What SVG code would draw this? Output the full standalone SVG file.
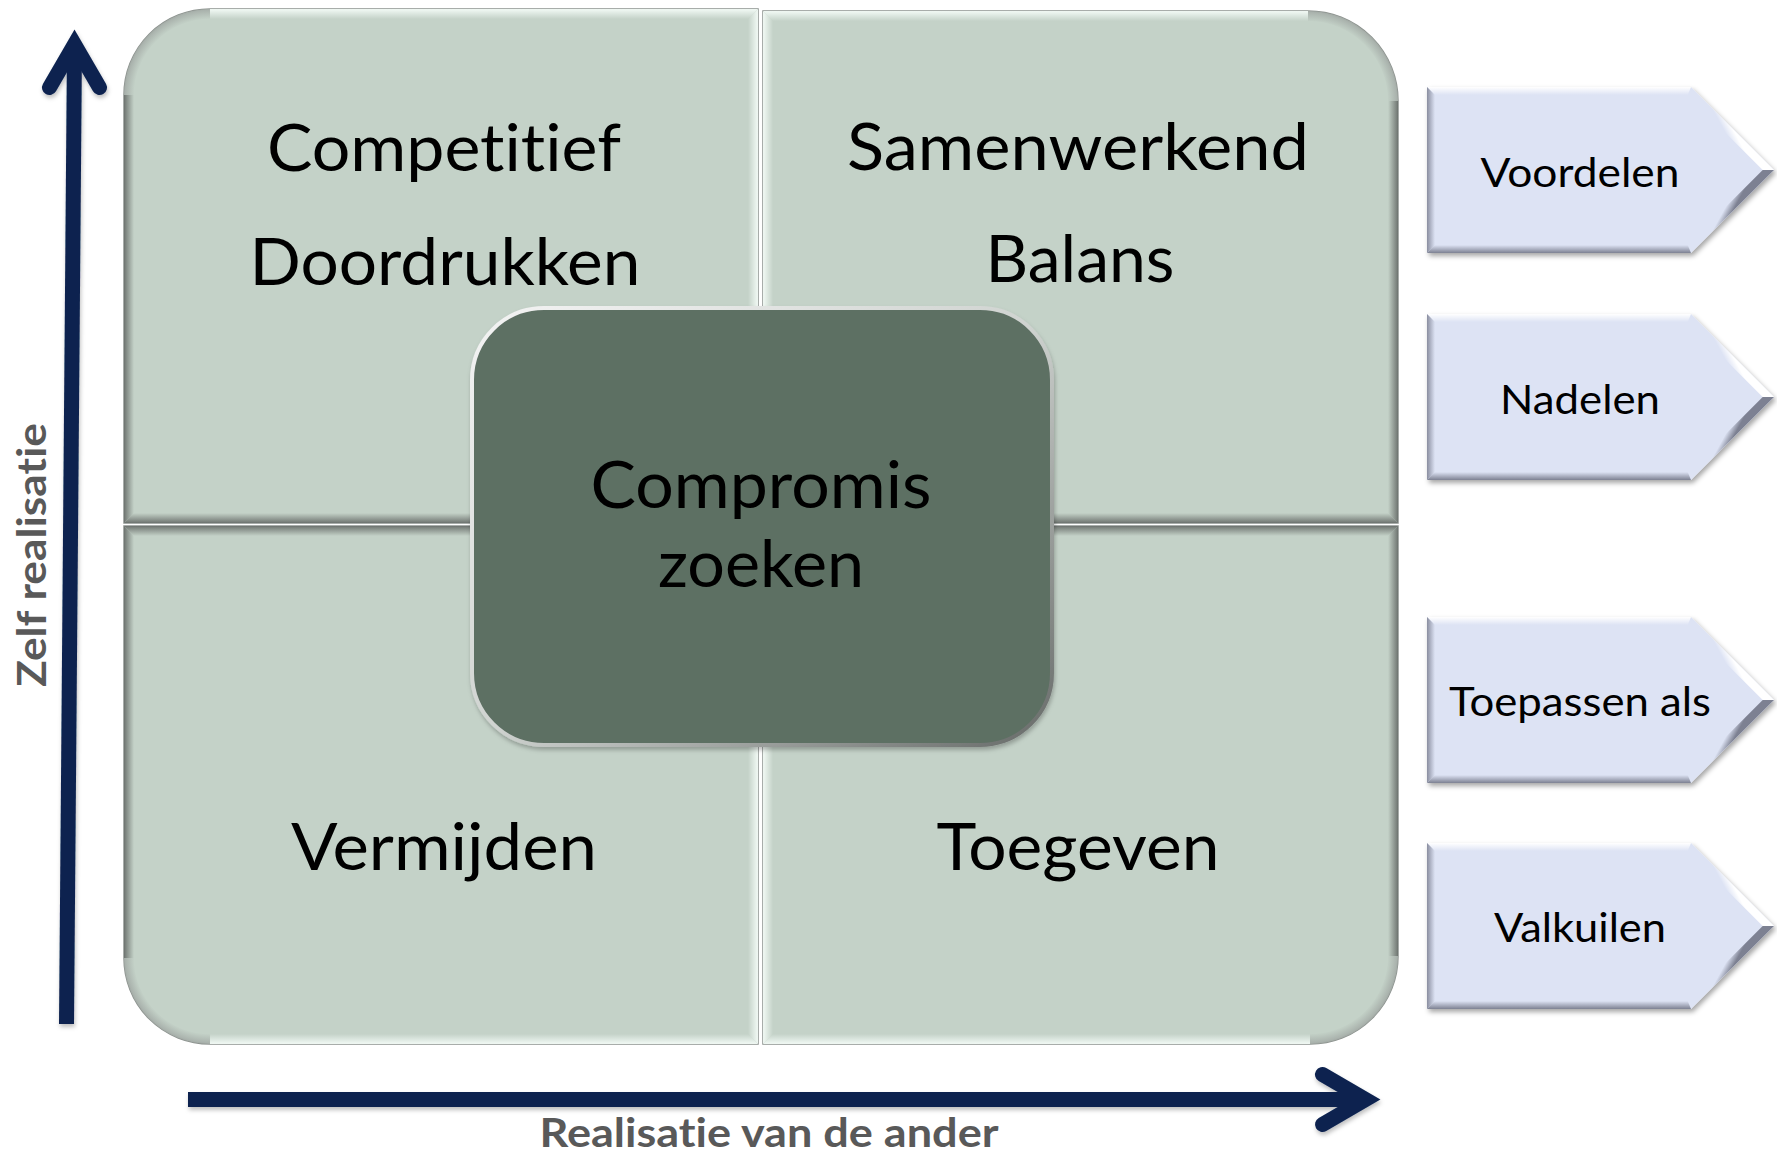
<svg xmlns="http://www.w3.org/2000/svg" xmlns:xlink="http://www.w3.org/1999/xlink" width="1777" height="1157" viewBox="0 0 1777 1157">
<style>
  text { font-variant-ligatures: none; font-feature-settings: "liga" 0, "clig" 0; }
  .q { fill: #c4d2c8; stroke: #8c928e; stroke-width: 1.5; }
  .qt { font-family: Lato, "Open Sans", "Liberation Sans", sans-serif; font-size: 66px; fill: #000; text-anchor: middle; }
  .pt { font-family: Lato, "Open Sans", "Liberation Sans", sans-serif; font-size: 41px; fill: #000; text-anchor: middle; }
  .ax { font-family: Lato, "Open Sans", "Liberation Sans", sans-serif; font-size: 41px; font-weight: bold; fill: #595959; text-anchor: middle; }
  .arrow { fill: none; stroke: #0b2450; stroke-width: 15; }
</style>
<defs>
  <linearGradient id="gLT" x1="0" y1="0" x2="0" y2="1"><stop offset="0" stop-color="#f2faf5"/><stop offset="1" stop-color="#f2faf5" stop-opacity="0"/></linearGradient>
  <linearGradient id="gLB" x1="0" y1="1" x2="0" y2="0"><stop offset="0" stop-color="#f2faf5"/><stop offset="1" stop-color="#f2faf5" stop-opacity="0"/></linearGradient>
  <linearGradient id="gLL" x1="0" y1="0" x2="1" y2="0"><stop offset="0" stop-color="#f2faf5"/><stop offset="1" stop-color="#f2faf5" stop-opacity="0"/></linearGradient>
  <linearGradient id="gLR" x1="1" y1="0" x2="0" y2="0"><stop offset="0" stop-color="#f2faf5"/><stop offset="1" stop-color="#f2faf5" stop-opacity="0"/></linearGradient>
  <linearGradient id="gDT" x1="0" y1="0" x2="0" y2="1"><stop offset="0" stop-color="#6f7571"/><stop offset="1" stop-color="#6f7571" stop-opacity="0"/></linearGradient>
  <linearGradient id="gDB" x1="0" y1="1" x2="0" y2="0"><stop offset="0" stop-color="#6f7571"/><stop offset="1" stop-color="#6f7571" stop-opacity="0"/></linearGradient>
  <linearGradient id="gDL" x1="0" y1="0" x2="1" y2="0"><stop offset="0" stop-color="#6f7571"/><stop offset="1" stop-color="#6f7571" stop-opacity="0"/></linearGradient>
  <linearGradient id="gDR" x1="1" y1="0" x2="0" y2="0"><stop offset="0" stop-color="#6f7571"/><stop offset="1" stop-color="#6f7571" stop-opacity="0"/></linearGradient>
  <radialGradient id="rcTL" gradientUnits="userSpaceOnUse" cx="210" cy="95" r="86"><stop offset="0.88" stop-color="#a6aea9" stop-opacity="0"/><stop offset="1" stop-color="#a6aea9"/></radialGradient>
  <radialGradient id="rcTR" gradientUnits="userSpaceOnUse" cx="1308" cy="101" r="90"><stop offset="0.88" stop-color="#a6aea9" stop-opacity="0"/><stop offset="1" stop-color="#a6aea9"/></radialGradient>
  <radialGradient id="rcBL" gradientUnits="userSpaceOnUse" cx="210" cy="958" r="86"><stop offset="0.88" stop-color="#a6aea9" stop-opacity="0"/><stop offset="1" stop-color="#a6aea9"/></radialGradient>
  <radialGradient id="rcBR" gradientUnits="userSpaceOnUse" cx="1310" cy="956" r="88"><stop offset="0.88" stop-color="#a6aea9" stop-opacity="0"/><stop offset="1" stop-color="#a6aea9"/></radialGradient>
  <linearGradient id="gCenterStroke" x1="0" y1="0" x2="1" y2="1"><stop offset="0" stop-color="#f4f4f4"/><stop offset="0.5" stop-color="#cfd3d0"/><stop offset="1" stop-color="#666a68"/></linearGradient>
  <linearGradient id="pLT" x1="0" y1="0" x2="0" y2="1"><stop offset="0" stop-color="#ffffff"/><stop offset="1" stop-color="#ffffff" stop-opacity="0"/></linearGradient>
  <linearGradient id="pDB" x1="0" y1="1" x2="0" y2="0"><stop offset="0" stop-color="#7d8192"/><stop offset="1" stop-color="#7d8192" stop-opacity="0"/></linearGradient>
  <linearGradient id="pDL" x1="0" y1="0" x2="1" y2="0"><stop offset="0" stop-color="#8a8ea0"/><stop offset="1" stop-color="#8a8ea0" stop-opacity="0"/></linearGradient>
  <linearGradient id="pLD" gradientUnits="userSpaceOnUse" x1="305.5" y1="41.5" x2="298.2" y2="45.5"><stop offset="0" stop-color="#ffffff"/><stop offset="1" stop-color="#ffffff" stop-opacity="0"/></linearGradient>
  <linearGradient id="pDD" gradientUnits="userSpaceOnUse" x1="305.5" y1="124.5" x2="298.2" y2="120.5"><stop offset="0" stop-color="#7d8192"/><stop offset="1" stop-color="#7d8192" stop-opacity="0"/></linearGradient>
  <filter id="shadow" x="-10%" y="-10%" width="130%" height="130%">
    <feDropShadow dx="2" dy="3" stdDeviation="2.5" flood-color="#000" flood-opacity="0.35"/>
  </filter>
  <filter id="shadowSoft" x="-10%" y="-10%" width="130%" height="130%">
    <feDropShadow dx="1" dy="3" stdDeviation="2" flood-color="#000" flood-opacity="0.25"/>
  </filter>
  <g id="pentagon">
    <polygon points="0,0 264,0 347,83 264,166 0,166" fill="#dde3f4" filter="url(#shadow)"/>
    <polygon points="0,0 264,0 260.7,8 8,8" fill="url(#pLT)"/>
    <polygon points="264,0 347,83 335.7,83 260.7,8" fill="url(#pLD)"/>
    <polygon points="347,83 264,166 260.7,158 335.7,83" fill="url(#pDD)"/>
    <polygon points="264,166 0,166 8,158 260.7,158" fill="url(#pDB)"/>
    <polygon points="0,166 0,0 8,8 8,158" fill="url(#pDL)"/>
  </g>
</defs>

<rect width="1777" height="1157" fill="#ffffff"/>

<g id="quadrant-competitief">
  <path class="q" d="M124,95 A86,86 0 0 1 210,9 H758 V523 H124 Z"/>
  <polygon points="210,9 758,9 748,19 210,19" fill="url(#gLT)"/>
  <polygon points="758,9 758,523 748,513 748,19" fill="url(#gLR)"/>
  <polygon points="758,523 124,523 134,513 748,513" fill="url(#gDB)"/>
  <polygon points="124,523 124,95 134,95 134,513" fill="url(#gDL)"/>
  <path d="M124,95 A86,86 0 0 1 210,9 V19 A76,76 0 0 0 134,95 Z" fill="url(#rcTL)"/>
  <text class="qt" x="444" y="171" textLength="354" lengthAdjust="spacingAndGlyphs">Competitief</text>
  <text class="qt" x="445" y="285" textLength="391" lengthAdjust="spacingAndGlyphs">Doordrukken</text>
</g>

<g id="quadrant-samenwerkend">
  <path class="q" d="M763,11 H1308 A90,90 0 0 1 1398,101 V523 H763 Z"/>
  <polygon points="763,11 1308,11 1308,21 773,21" fill="url(#gLT)"/>
  <polygon points="763,11 773,21 773,513 763,523" fill="url(#gLL)"/>
  <polygon points="763,523 1398,523 1388,513 773,513" fill="url(#gDB)"/>
  <polygon points="1398,101 1398,523 1388,513 1388,101" fill="url(#gDR)"/>
  <path d="M1308,11 A90,90 0 0 1 1398,101 H1388 A80,80 0 0 0 1308,21 Z" fill="url(#rcTR)"/>
  <text class="qt" x="1078" y="170" textLength="462" lengthAdjust="spacingAndGlyphs">Samenwerkend</text>
  <text class="qt" x="1080" y="282" textLength="189" lengthAdjust="spacingAndGlyphs">Balans</text>
</g>

<g id="quadrant-vermijden">
  <path class="q" d="M124,526 H758 V1044 H210 A86,86 0 0 1 124,958 Z"/>
  <polygon points="124,526 758,526 748,536 134,536" fill="url(#gDT)"/>
  <polygon points="758,526 758,1044 748,1034 748,536" fill="url(#gLR)"/>
  <polygon points="210,1044 758,1044 748,1034 210,1034" fill="url(#gLB)"/>
  <polygon points="124,526 134,536 134,958 124,958" fill="url(#gDL)"/>
  <path d="M124,958 H134 A76,76 0 0 0 210,1034 V1044 A86,86 0 0 1 124,958 Z" fill="url(#rcBL)"/>
  <text class="qt" x="444" y="870" textLength="306" lengthAdjust="spacingAndGlyphs">Vermijden</text>
</g>

<g id="quadrant-toegeven">
  <path class="q" d="M763,526 H1398 V956 A88,88 0 0 1 1310,1044 H763 Z"/>
  <polygon points="763,526 1398,526 1388,536 773,536" fill="url(#gDT)"/>
  <polygon points="763,526 773,536 773,1034 763,1044" fill="url(#gLL)"/>
  <polygon points="763,1044 1310,1044 1310,1034 773,1034" fill="url(#gLB)"/>
  <polygon points="1398,526 1398,956 1388,956 1388,536" fill="url(#gDR)"/>
  <path d="M1398,956 A88,88 0 0 1 1310,1044 V1034 A78,78 0 0 0 1388,956 Z" fill="url(#rcBR)"/>
  <text class="qt" x="1078" y="870" textLength="283" lengthAdjust="spacingAndGlyphs">Toegeven</text>
</g>

<g id="center-compromis">
  <rect x="472" y="308" width="580" height="437" rx="72" ry="72" fill="#5d6f63" stroke="url(#gCenterStroke)" stroke-width="4" filter="url(#shadowSoft)"/>
  <text class="qt" x="761" y="508" textLength="341" lengthAdjust="spacingAndGlyphs">Compromis</text>
  <text class="qt" x="761" y="587" textLength="206" lengthAdjust="spacingAndGlyphs">zoeken</text>
</g>

<g id="node-voordelen" transform="translate(1427,87)">
  <use href="#pentagon"/>
  <text class="pt" x="153" y="100" textLength="199" lengthAdjust="spacingAndGlyphs">Voordelen</text>
</g>
<g id="node-nadelen" transform="translate(1427,314)">
  <use href="#pentagon"/>
  <text class="pt" x="153" y="100" textLength="160" lengthAdjust="spacingAndGlyphs">Nadelen</text>
</g>
<g id="node-toepassen" transform="translate(1427,617)">
  <use href="#pentagon"/>
  <text class="pt" x="153" y="99" textLength="262" lengthAdjust="spacingAndGlyphs">Toepassen als</text>
</g>
<g id="node-valkuilen" transform="translate(1427,843)">
  <use href="#pentagon"/>
  <text class="pt" x="153" y="99" textLength="172" lengthAdjust="spacingAndGlyphs">Valkuilen</text>
</g>

<g id="connectors" filter="url(#shadowSoft)">
  <line class="arrow" x1="66.5" y1="1024" x2="74.5" y2="46" stroke-linecap="butt"/>
  <polyline class="arrow" points="49.5,87.5 74.5,44.5 99.5,87.5" stroke-linecap="round" stroke-linejoin="miter"/>
  <line class="arrow" x1="188" y1="1099.5" x2="1363" y2="1099.5" stroke-linecap="butt"/>
  <polyline class="arrow" points="1322.5,1074.5 1365.5,1099.5 1322.5,1124.5" stroke-linecap="round" stroke-linejoin="miter"/>
</g>

<g id="axis-labels">
  <text class="ax" x="769" y="1147" textLength="459" lengthAdjust="spacingAndGlyphs">Realisatie van de ander</text>
  <text class="ax" transform="translate(46,555) rotate(-90)" x="0" y="0" textLength="264" lengthAdjust="spacingAndGlyphs">Zelf realisatie</text>
</g>
</svg>
